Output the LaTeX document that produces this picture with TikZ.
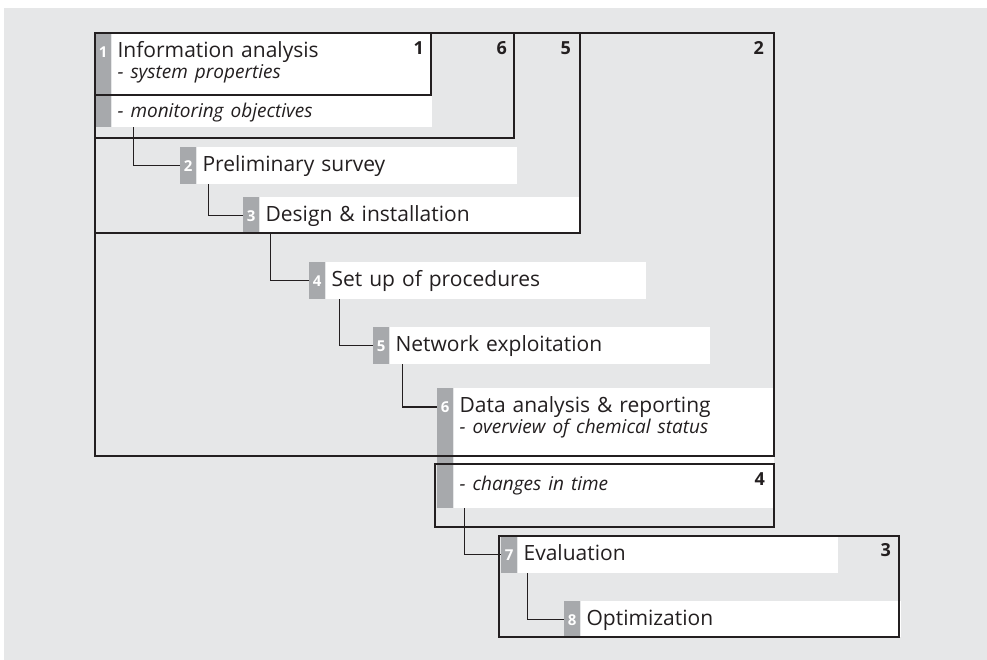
\documentclass[tikz,border=0pt]{standalone}
\usepackage{fontspec}
\setmainfont{Open Sans}
\usetikzlibrary{positioning}

\definecolor{panelgray}{HTML}{E6E7E8}
\definecolor{tabgray}{HTML}{A7A9AC}
\definecolor{inkblack}{HTML}{231F20}

\newcommand{\stepnote}[1]{{\fontsize{19}{21}\selectfont\itshape #1}}

\begin{document}
\begin{tikzpicture}[x=1pt,y=-1pt,
    steptab/.style={fill=tabgray,text=white,font=\fontsize{15}{15}\selectfont\bfseries,
        minimum width=16pt,inner xsep=0pt,inner ysep=0pt,
        text height=24pt,text depth=#1,anchor=north west},
    steptab/.default=13pt,
    stepcard/.style={fill=white,text=inkblack,font=\fontsize{21}{21}\selectfont,
        text width=308pt,align=left,inner xsep=6pt,inner ysep=0pt,
        text height=24pt,text depth=#1},
    stepcard/.default=13pt,
    frame/.style={draw=inkblack,line width=2pt},
    link/.style={draw=inkblack,line width=1.1pt},
    boxnum/.style={font=\fontsize{18}{18}\selectfont\bfseries,text=inkblack,
        inner sep=0pt,anchor=north east}]

    \useasboundingbox (0,0) rectangle (987,660);
    \fill[panelgray] (4,8) rectangle (987,660);

    % Steps: grey tab with number, white card with text
    \node[steptab=70pt] (t1) at (95,33) {1};
    \node[stepcard=70pt,right=0pt of t1] (c1) {Information analysis\\
        \stepnote{- system properties}\\[18pt]
        \stepnote{- monitoring objectives}};

    \node[steptab] (t2) at (180,147) {2};
    \node[stepcard,right=0pt of t2] (c2) {Preliminary survey};

    \node[steptab=12pt] (t3) at (243,197) {3};
    \node[stepcard=12pt,right=0pt of t3] (c3) {Design \& installation};

    \node[steptab] (t4) at (309,262) {4};
    \node[stepcard,right=0pt of t4] (c4) {Set up of procedures};

    \node[steptab] (t5) at (373,327) {5};
    \node[stepcard,right=0pt of t5] (c5) {Network exploitation};

    \node[steptab=96pt] (t6) at (437,388) {6};
    \node[stepcard=96pt,right=0pt of t6] (c6) {Data analysis \& reporting\\
        \stepnote{- overview of chemical status}\\[36pt]
        \stepnote{- changes in time}};

    \node[steptab] (t7) at (501,536) {7};
    \node[stepcard,right=0pt of t7] (c7) {Evaluation};

    \node[steptab=12pt] (t8) at (564,601) {8};
    \node[stepcard=12pt,right=0pt of t8] (c8) {Optimization};

    % Links between steps
    \draw[link] ([xshift=22pt]c1.south west) |- (t2.west);
    \draw[link] ([xshift=12pt]c2.south west) |- (t3.west);
    \draw[link] ([xshift=11pt]c3.south west) |- (t4.west);
    \draw[link] ([xshift=14pt]c4.south west) |- (t5.west);
    \draw[link] ([xshift=13pt]c5.south west) |- ([yshift=-19pt]t6.north west);
    \draw[link] ([xshift=11pt]c6.south west) |- (t7.west);
    \draw[link] ([xshift=10pt]c7.south west) |- (t8.west);

    % Grouping frames with their numbers
    \draw[frame] (95,33) rectangle (431,95);
    \draw[frame] (95,33) rectangle (514,138);
    \draw[frame] (95,33) rectangle (580,233);
    \draw[frame] (95,33) rectangle (774,456);
    \draw[frame] (435,464) rectangle (774,527);
    \draw[frame] (499,536) rectangle (899,637);

    \node[boxnum] (b1) at (424,41) {1};
    \node[boxnum] (b6) at (507,41) {6};
    \node[boxnum] (b5) at (571,41) {5};
    \node[boxnum] (b2) at (764,41) {2};
    \node[boxnum] (b4) at (765,472) {4};
    \node[boxnum] (b3) at (891,543) {3};
\end{tikzpicture}
\end{document}
